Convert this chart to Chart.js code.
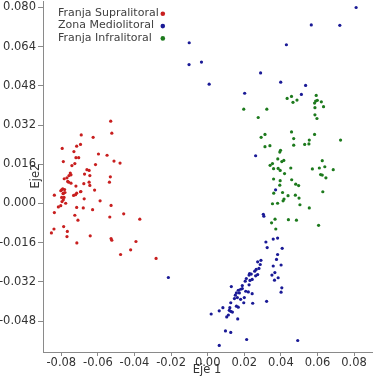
<!DOCTYPE html>
<html>
<head>
<meta charset="utf-8">
<script src="https://cdn.jsdelivr.net/npm/chart.js@4/dist/chart.umd.min.js"></script>
<style>
html,body{margin:0;padding:0;background:#fff;}
#wrap{position:relative;width:374px;height:376px;}
</style>
</head>
<body>
<div id="wrap"><canvas id="c" width="374" height="376"></canvas></div>
<script>
const seriesNames = ["Franja Supralitoral", "Zona Mediolitoral", "Franja Infralitoral"];
const seriesColors = ["#c81f1f", "#1a1a96", "#1d7a1d"];
const axisTitles = ["Eje 1", "Eje2"];
const xTickValues = [-0.08, -0.06, -0.04, -0.02, 0.00, 0.02, 0.04, 0.06, 0.08];
const xTickLabels = ["-0.08", "-0.06", "-0.04", "-0.02", "0.00", "0.02", "0.04", "0.06", "0.08"];
const yTickValues = [0.080, 0.064, 0.048, 0.032, 0.016, 0.000, -0.016, -0.032, -0.048];
const yTickLabels = ["0.080", "0.064", "0.048", "0.032", "0.016", "0.000", "-0.016", "-0.032", "-0.048"];

const supralitoral = [
[-0.0530,0.0336],[-0.0524,0.0287],[-0.0691,0.0280],[-0.0626,0.0270],[-0.0695,0.0241],[-0.0716,0.0234],[-0.0795,0.0225],[-0.0731,0.0212],[-0.0597,0.0202],[-0.0550,0.0197],[-0.0720,0.0187],[-0.0705,0.0187],[-0.0789,0.0171],[-0.0512,0.0173],[-0.0479,0.0165],[-0.0726,0.0163],[-0.0742,0.0155],[-0.0613,0.0159],[-0.0660,0.0138],[-0.0648,0.0135],[-0.0751,0.0124],[-0.0673,0.0120],[-0.0644,0.0114],[-0.0758,0.0114],[-0.0784,0.0101],[-0.0769,0.0105],[-0.0532,0.0109],[-0.0760,0.0087],[-0.0765,0.0090],[-0.0648,0.0087],[-0.0677,0.0081],[-0.0537,0.0087],[-0.0720,0.0071],[-0.0644,0.0074],[-0.0792,0.0060],[-0.0782,0.0057],[-0.0803,0.0052],[-0.0618,0.0055],[-0.0693,0.0049],[-0.0716,0.0042],[-0.0789,0.0042],[-0.0838,0.0034],[-0.0733,0.0033],[-0.0798,0.0025],[-0.0785,0.0025],[-0.0675,0.0019],[-0.0796,0.0008],[-0.0588,0.0011],[-0.0776,0.0001],[-0.0803,-0.0009],[-0.0816,-0.0014],[-0.0716,-0.0016],[-0.0680,-0.0018],[-0.0528,-0.0008],[-0.0629,-0.0025],[-0.0838,-0.0037],[-0.0459,-0.0042],[-0.0726,-0.0048],[-0.0535,-0.0055],[-0.0709,-0.0068],[-0.0371,-0.0064],[-0.0840,-0.0104],[-0.0787,-0.0094],[-0.0767,-0.0114],[-0.0854,-0.0120],[-0.0769,-0.0135],[-0.0642,-0.0132],[-0.0528,-0.0143],[-0.0524,-0.0150],[-0.0392,-0.0155],[-0.0715,-0.0161],[-0.0421,-0.0189],[-0.0476,-0.0208],[-0.0282,-0.0224],
[-0.0798,0.0056],[-0.0780,0.0045],[-0.0790,0.0040],[-0.0789,0.0015],[-0.0722,0.0036],[-0.0695,0.0048],[-0.0747,0.0117],[-0.0747,0.0083]
];

const mediolitoral = [
[0.0811,0.0800],[0.0566,0.0729],[0.0722,0.0727],[-0.0101,0.0656],[0.0430,0.0648],[-0.0102,0.0567],[-0.0034,0.0577],[0.0289,0.0533],[0.0008,0.0487],[0.0399,0.0495],[0.0535,0.0482],[0.0202,0.0450],[0.0512,0.0445],[0.0262,0.0195],[0.0371,0.0056],[0.0304,-0.0044],[0.0307,-0.0052],[-0.0215,-0.0302],
[0.0318,-0.0157],[0.0358,-0.0145],[0.0382,-0.0141],[0.0325,-0.0180],[0.0407,-0.0183],[0.0382,-0.0208],[0.0376,-0.0228],[0.0291,-0.0232],[0.0273,-0.0238],[0.0287,-0.0249],[0.0358,-0.0255],[0.0401,-0.0251],[0.0280,-0.0265],[0.0265,-0.0269],[0.0257,-0.0276],[0.0229,-0.0286],[0.0238,-0.0288],[0.0226,-0.0292],[0.0273,-0.0290],[0.0262,-0.0295],[0.0367,-0.0282],[0.0351,-0.0292],[0.0385,-0.0303],[0.0243,-0.0310],[0.0211,-0.0306],[0.0231,-0.0314],[0.0205,-0.0317],[0.0365,-0.0313],[0.0189,-0.0335],[0.0226,-0.0332],[0.0129,-0.0339],[0.0405,-0.0344],[0.0401,-0.0362],[0.0167,-0.0354],[0.0180,-0.0350],[0.0189,-0.0347],[0.0157,-0.0365],[0.0173,-0.0365],[0.0208,-0.0358],[0.0222,-0.0361],[0.0243,-0.0368],[0.0151,-0.0374],[0.0146,-0.0388],[0.0162,-0.0384],[0.0200,-0.0384],[0.0180,-0.0391],[0.0126,-0.0405],[0.0197,-0.0405],[0.0246,-0.0407],[0.0322,-0.0399],[0.0157,-0.0419],[0.0167,-0.0423],[0.0083,-0.0425],[0.0121,-0.0425],[0.0063,-0.0438],[0.0118,-0.0436],[0.0126,-0.0440],[0.0135,-0.0443],[0.0019,-0.0451],[0.0113,-0.0455],[0.0104,-0.0463],[0.0164,-0.0471],[0.0097,-0.0520],[0.0126,-0.0526],[0.0213,-0.0555],[0.0063,-0.0579],[0.0492,-0.0559]
];

const infralitoral = [
[0.0593,0.0441],[0.0621,0.0415],[0.0590,0.0418],[0.0584,0.0410],[0.0599,0.0421],[0.0633,0.0395],[0.0434,0.0429],[0.0458,0.0437],[0.0466,0.0413],[0.0488,0.0422],[0.0197,0.0385],[0.0323,0.0385],[0.0586,0.0391],[0.0276,0.0351],[0.0586,0.0362],[0.0597,0.0347],[0.0458,0.0292],[0.0313,0.0282],[0.0292,0.0270],[0.0470,0.0265],[0.0584,0.0282],[0.0555,0.0259],[0.0530,0.0241],[0.0553,0.0243],[0.0470,0.0238],[0.0313,0.0232],[0.0340,0.0236],[0.0398,0.0217],[0.0394,0.0210],[0.0383,0.0182],[0.0416,0.0176],[0.0405,0.0171],[0.0354,0.0163],[0.0341,0.0156],[0.0626,0.0175],[0.0640,0.0150],[0.0610,0.0145],[0.0572,0.0141],[0.0686,0.0138],[0.0360,0.0142],[0.0385,0.0143],[0.0396,0.0135],[0.0454,0.0145],[0.0420,0.0122],[0.0617,0.0118],[0.0626,0.0116],[0.0646,0.0105],[0.0360,0.0100],[0.0396,0.0093],[0.0459,0.0097],[0.0394,0.0075],[0.0481,0.0079],[0.0497,0.0073],[0.0361,0.0042],[0.0409,0.0045],[0.0439,0.0032],[0.0479,0.0034],[0.0499,0.0022],[0.0629,0.0048],[0.0417,0.0018],[0.0412,0.0011],[0.0354,-0.0001],[0.0382,0.0001],[0.0504,-0.0005],[0.0555,-0.0018],[0.0368,-0.0064],[0.0349,-0.0079],[0.0441,-0.0066],[0.0485,-0.0068],[0.0606,-0.0089],[0.0726,0.0259],[0.0372,-0.0104]
];

const seriesData = [supralitoral, mediolitoral, infralitoral];
const FONT = "'DejaVu Sans', Verdana, sans-serif";

const overlay = {
  id: 'overlay',
  afterDraw(chart) {
    const ctx = chart.ctx;
    ctx.save();
    ctx.font = "11px " + FONT;
    ctx.textBaseline = 'middle';
    ctx.textAlign = 'left';
    chart.data.datasets.forEach((ds, i) => {
      const y = 13.3 + i * 12.3;
      ctx.fillStyle = '#404040';
      ctx.fillText(ds.label, 58, y);
      ctx.beginPath();
      ctx.fillStyle = ds.backgroundColor;
      ctx.arc(162.8, y + 0.5, 2.3, 0, Math.PI * 2);
      ctx.fill();
    });
    ctx.fillStyle = '#333';
    ctx.font = "11.5px " + FONT;
    ctx.textAlign = 'center';
    ctx.fillText(axisTitles[0], 207, 370);
    ctx.translate(36, 176);
    ctx.rotate(-Math.PI / 2);
    ctx.fillText(axisTitles[1], 0, 0);
    ctx.restore();
  }
};

new Chart(document.getElementById('c'), {
  type: 'scatter',
  data: {
    datasets: seriesData.map((d, i) => ({
      label: seriesNames[i],
      data: d.map(p => ({x: p[0], y: p[1]})),
      backgroundColor: seriesColors[i],
      borderWidth: 0,
      pointRadius: 1.6,
      pointHoverRadius: 1.6
    }))
  },
  options: {
    responsive: false,
    animation: false,
    devicePixelRatio: 1,
    layout: { padding: 0 },
    plugins: { legend: { display: false }, tooltip: { enabled: false } },
    scales: {
      x: {
        type: 'linear',
        min: -0.09, max: 0.09,
        afterFit: s => { s.height = 24; s.paddingLeft = 0; s.paddingRight = 0; },
        afterBuildTicks: s => { s.ticks = xTickValues.map(v => ({value: v})); },
        ticks: {
          padding: 0,
          color: '#333',
          font: { family: FONT, size: 11.5 },
          maxRotation: 0,
          callback: (v, i) => xTickLabels[i]
        },
        grid: { drawOnChartArea: false, drawTicks: true, tickLength: 4, color: '#8a8a8a' },
        border: { display: true, color: '#8a8a8a', width: 1 }
      },
      y: {
        type: 'linear',
        min: -0.0606, max: 0.0824,
        afterFit: s => { s.width = 43; s.paddingTop = 0; s.paddingBottom = 0; },
        afterBuildTicks: s => { s.ticks = yTickValues.map(v => ({value: v})); },
        ticks: {
          padding: 2,
          color: '#333',
          font: { family: FONT, size: 11.5 },
          callback: (v, i) => yTickLabels[i]
        },
        grid: { drawOnChartArea: false, drawTicks: true, tickLength: 5, color: '#8a8a8a' },
        border: { display: true, color: '#8a8a8a', width: 1 }
      }
    }
  },
  plugins: [overlay]
});
</script>
</body>
</html>
